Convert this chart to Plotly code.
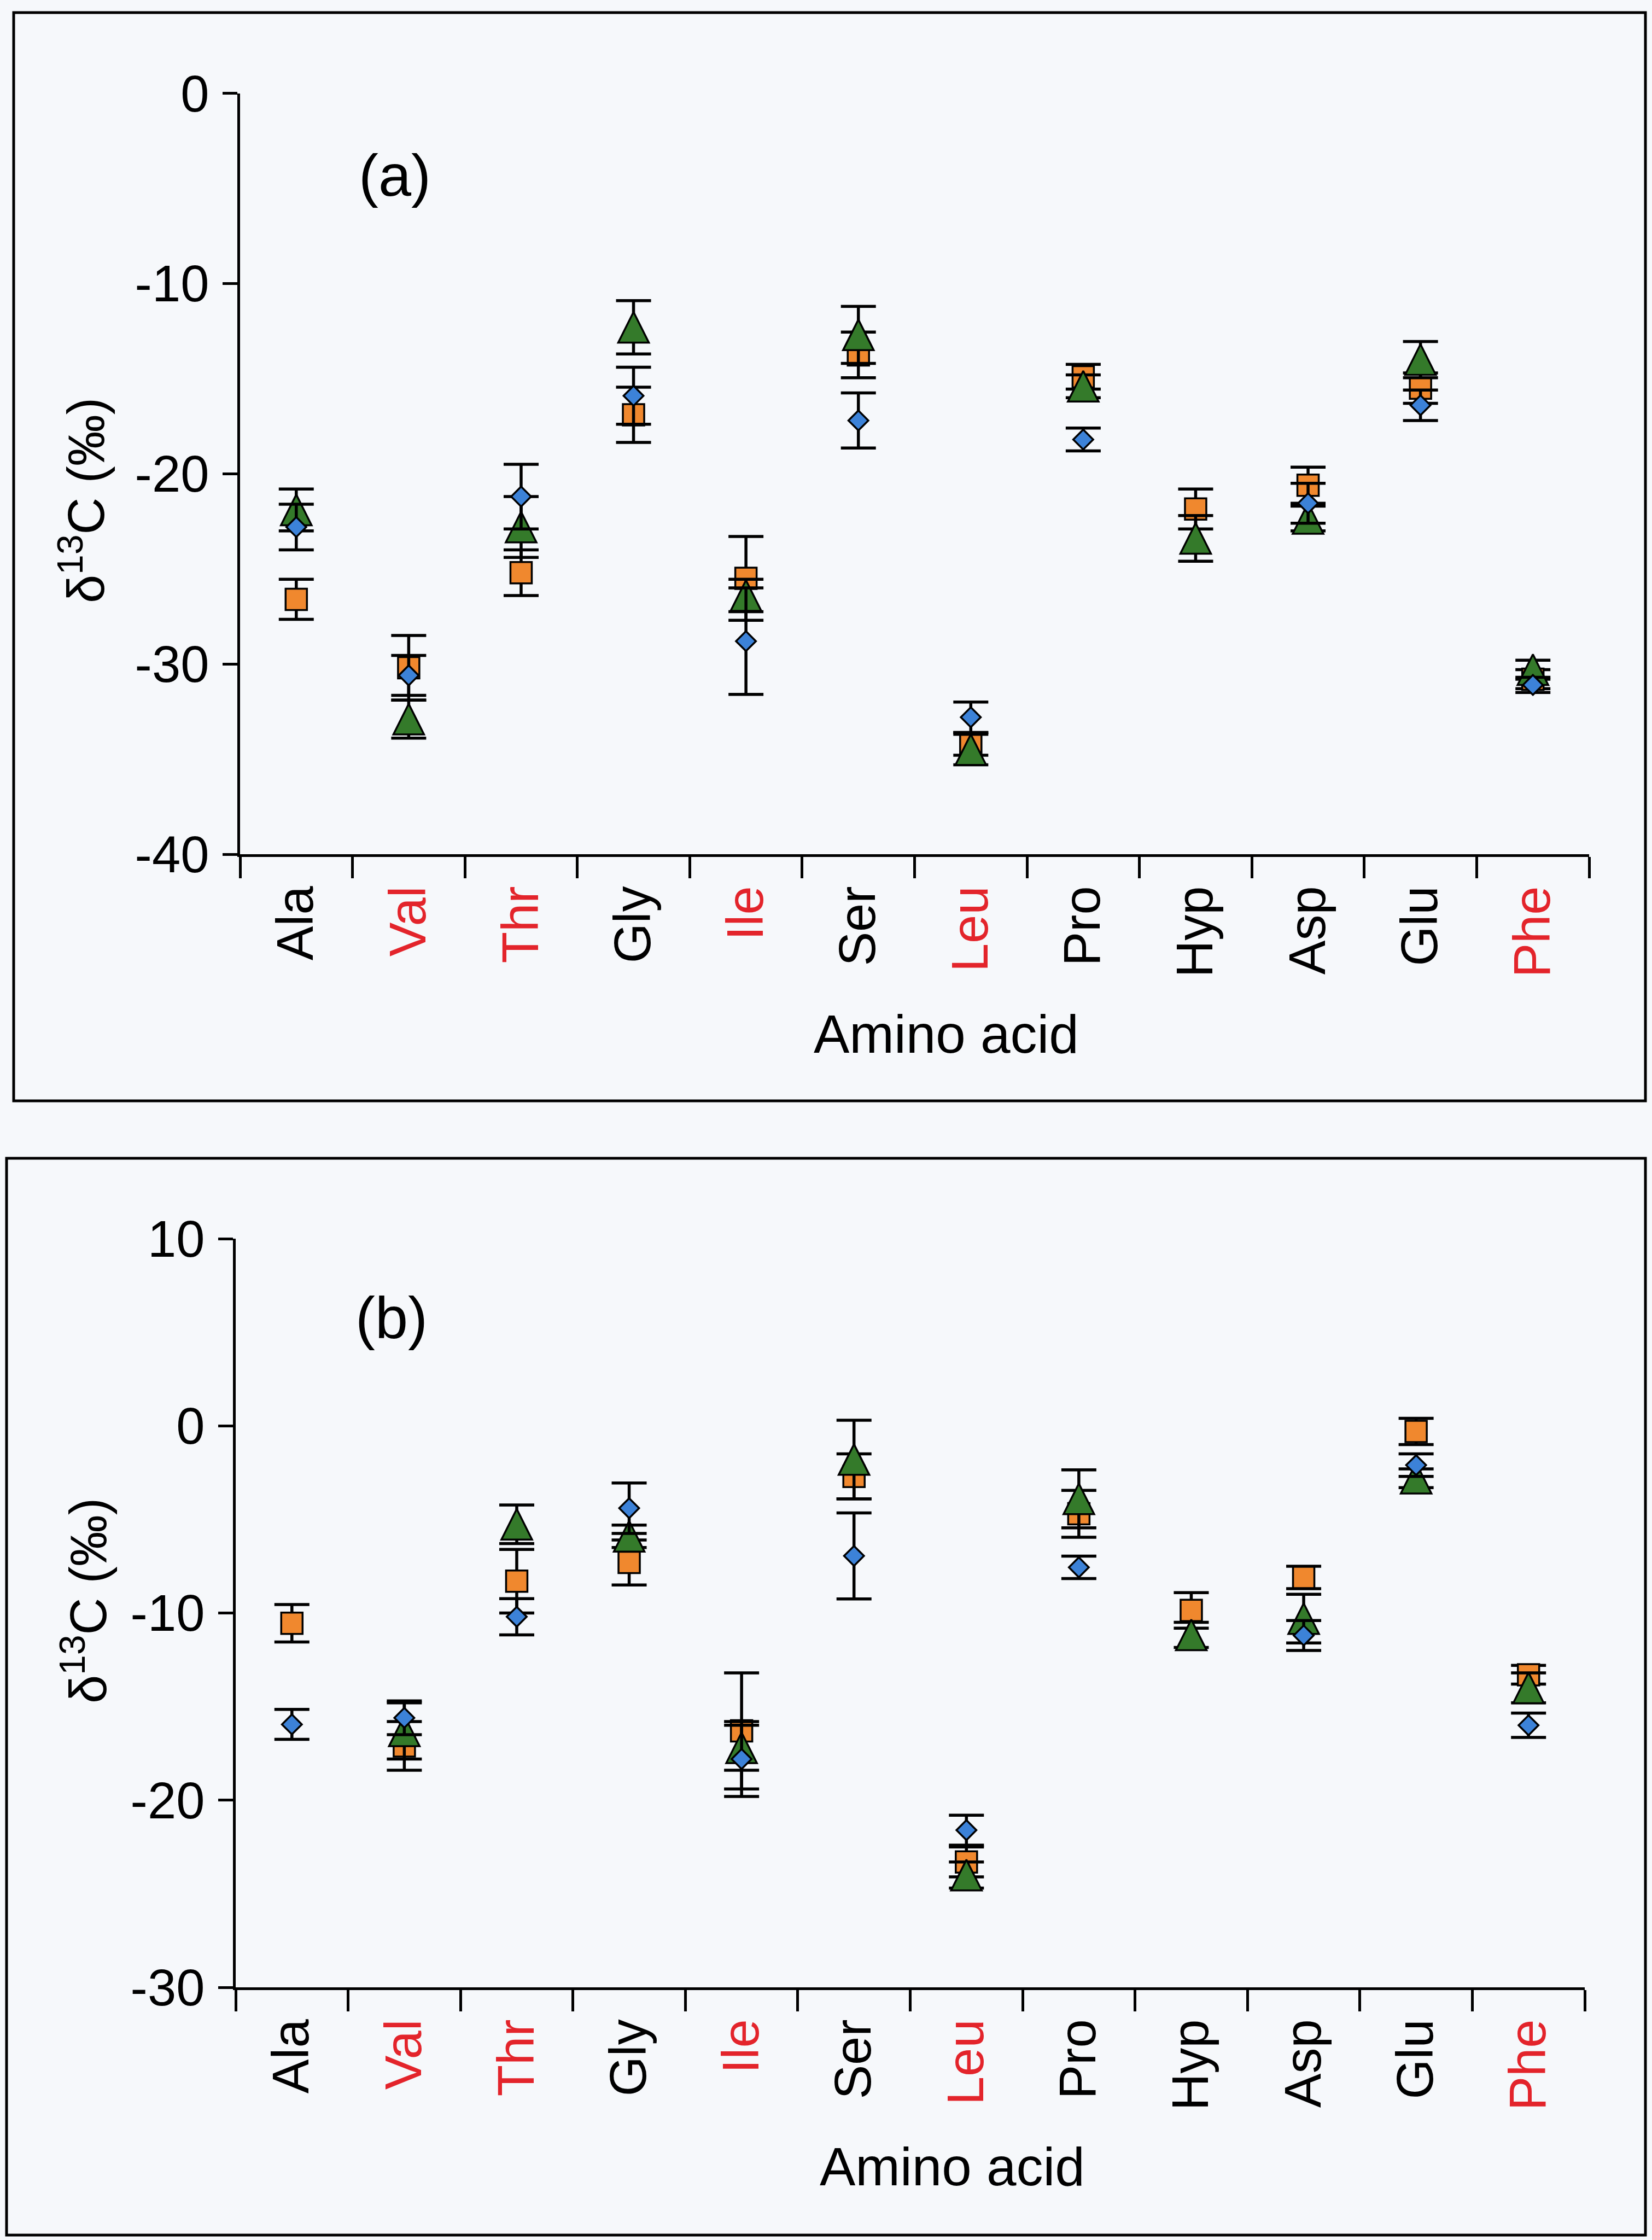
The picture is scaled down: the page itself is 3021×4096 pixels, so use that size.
import plotly.graph_objects as go

# ---------------- data ----------------
categories = ["Ala", "Val", "Thr", "Gly", "Ile", "Ser", "Leu", "Pro", "Hyp", "Asp", "Glu", "Phe"]
essential = ["Val", "Thr", "Ile", "Leu", "Phe"]

# Panel (a)
a_square = [-26.6, -30.2, -25.2, -16.9, -25.5, -13.75, -34.2, -14.9, -21.85, -20.6, -15.5, -30.8]
a_square_err = [1.05, 1.7, 1.2, 1.45, 2.2, 1.2, 0.6, 0.65, 1.05, 0.95, 0.8, 0.5]
a_triangle = [-21.9, -32.9, -22.8, -12.3, -26.4, -12.7, -34.5, -15.4, -23.4, -22.35, -14.0, -30.3]
a_triangle_err = [1.1, 1.0, 1.6, 1.4, 0.85, 1.5, 0.8, 0.6, 1.2, 0.65, 0.95, 0.5]
a_diamond = [-22.8, -30.6, -21.2, -15.9, -28.8, -17.2, -32.8, -18.2, None, -21.55, -16.4, -31.1]
a_diamond_err = [1.2, 1.05, 1.7, 1.5, 2.8, 1.45, 0.8, 0.6, None, 1.05, 0.8, 0.4]

# Panel (b)
b_square = [-10.55, -17.1, -8.3, -7.3, -16.3, -2.7, -23.3, -4.7, -9.86, -8.1, -0.3, -13.3]
b_square_err = [1.0, 1.3, 1.7, 1.2, 3.1, 1.2, 0.8, 1.25, 0.95, 0.6, 0.7, 0.5]
b_triangle = [None, -16.3, -5.26, -5.9, -17.2, -1.8, -24.0, -3.9, -11.17, -10.3, -2.8, -14.0]
b_triangle_err = [None, 1.5, 1.03, 0.6, 1.2, 2.1, 0.7, 1.55, 0.67, 1.3, 0.5, 0.8]
b_diamond = [-15.95, -15.6, -10.2, -4.4, -17.8, -6.95, -21.6, -7.56, None, -11.2, -2.1, -16.0]
b_diamond_err = [0.8, 0.9, 0.97, 1.35, 2.0, 2.3, 0.8, 0.6, None, 0.8, 0.6, 0.65]

a_yticks = [0, -10, -20, -30, -40]
b_yticks = [10, 0, -10, -20, -30]

# ---------------- style ----------------
W, H = 3021, 4096
FONT = "Liberation Sans, Arial, sans-serif"
ORANGE = "#F0882E"
GREEN = "#347A2A"
BLUE = "#3C82D8"
RED = "#E3242B"
BG = "#F6F8FB"

ticktext = [
    f"<span style='color:{RED}'>{c}</span>" if c in essential else c
    for c in categories
]

fig = go.Figure()


def add_panel(xref, yref, sq, sq_e, tr, tr_e, di, di_e):
    common_err = dict(type="data", symmetric=True, color="black", thickness=5.5, width=32)
    fig.add_trace(go.Scatter(
        x=categories, y=sq, mode="markers", xaxis=xref, yaxis=yref,
        error_y=dict(array=sq_e, **common_err),
        marker=dict(symbol="square", size=39, color=ORANGE, line=dict(color="black", width=3.5)),
        showlegend=False, cliponaxis=False))
    fig.add_trace(go.Scatter(
        x=categories, y=tr, mode="markers", xaxis=xref, yaxis=yref,
        error_y=dict(array=tr_e, **common_err),
        marker=dict(symbol="arrow-down", angle=180, standoff=28, size=56, color=GREEN,
                    line=dict(color="black", width=3.5)),
        showlegend=False, cliponaxis=False))
    fig.add_trace(go.Scatter(
        x=categories, y=di, mode="markers", xaxis=xref, yaxis=yref,
        error_y=dict(array=di_e, **common_err),
        marker=dict(symbol="diamond", size=28, color=BLUE, line=dict(color="black", width=3.5)),
        showlegend=False, cliponaxis=False))


add_panel("x", "y", a_square, a_square_err, a_triangle, a_triangle_err, a_diamond, a_diamond_err)
add_panel("x2", "y2", b_square, b_square_err, b_triangle, b_triangle_err, b_diamond, b_diamond_err)


def xaxis_cfg(domain, anchor):
    return dict(
        domain=domain, anchor=anchor, type="category",
        categoryorder="array", categoryarray=categories,
        range=[-0.5, 11.5], tickson="boundaries",
        tickmode="array", tickvals=categories, ticktext=ticktext,
        tickangle=-90, ticks="outside", ticklen=39, tickwidth=4.5, tickcolor="black",
        ticklabelstandoff=16, automargin=False,
        showline=True, linecolor="black", linewidth=4.5, mirror=False,
        showgrid=False, zeroline=False,
        tickfont=dict(family=FONT, size=94, color="black"),
    )


def yaxis_cfg(domain, anchor, rng, ticks):
    return dict(
        domain=domain, anchor=anchor, range=rng,
        tickmode="array", tickvals=ticks, ticktext=[str(t) for t in ticks],
        ticks="outside", ticklen=27, tickwidth=4.5, tickcolor="black",
        ticklabelstandoff=6, automargin=False,
        showline=True, linecolor="black", linewidth=4.5, mirror=False,
        showgrid=False, zeroline=False,
        tickfont=dict(family=FONT, size=94, color="black"),
    )


fig.update_layout(
    width=W, height=H, autosize=False,
    margin=dict(l=0, r=0, t=0, b=0, pad=0, autoexpand=False),
    paper_bgcolor=BG, plot_bgcolor=BG,
    font=dict(family=FONT, color="black"),
    showlegend=False,
    xaxis=xaxis_cfg([439 / W, 2906 / W], "y"),
    yaxis=yaxis_cfg([1 - 1562 / H, 1 - 170.6 / H], "x", [-40, 0], a_yticks),
    xaxis2=xaxis_cfg([431 / W, 2898 / W], "y2"),
    yaxis2=yaxis_cfg([1 - 3634 / H, 1 - 2265 / H], "x2", [-30, 10], b_yticks),
)

# panel borders
for x0, y0, x1, y1 in [(25, 23, 3009, 2013), (12, 2118, 3009, 4087)]:
    fig.add_shape(type="rect", xref="paper", yref="paper",
                  x0=x0 / W, x1=x1 / W, y0=1 - y1 / H, y1=1 - y0 / H,
                  line=dict(color="black", width=5), fillcolor="rgba(0,0,0,0)", layer="below")

# titles and panel labels
ann = [
    ("(a)", 722, 320, 0, 108),
    ("(b)", 716, 2409, 0, 108),
    ("Amino acid", 1731, 1891, 0, 98),
    ("Amino acid", 1742, 3962, 0, 98),
    ("δ<sup>13</sup>C (‰)", 150, 915, -90, 94),
    ("δ<sup>13</sup>C (‰)", 154, 2927, -90, 94),
]
for text, px, py, ang, sz in ann:
    fig.add_annotation(text=text, xref="paper", yref="paper", x=px / W, y=1 - py / H,
                       xanchor="center", yanchor="middle", showarrow=False, textangle=ang,
                       font=dict(family=FONT, size=sz, color="black"))

fig.write_html("out.html")
